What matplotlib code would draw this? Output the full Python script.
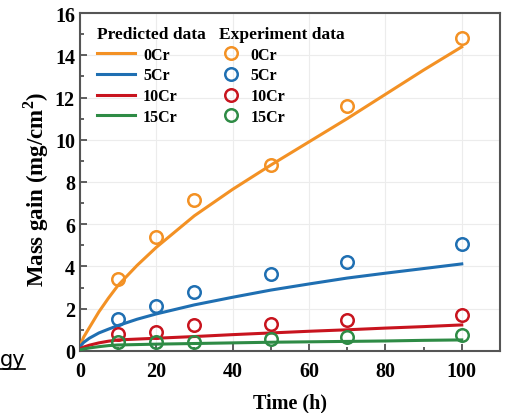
import numpy as np
import matplotlib
matplotlib.use("Agg")
import matplotlib.pyplot as plt
from matplotlib.ticker import MultipleLocator

plt.rcParams['font.family'] = ['Liberation Serif', 'DejaVu Serif']
plt.rcParams['font.weight'] = 'bold'
plt.rcParams['mathtext.fontset'] = 'custom'
plt.rcParams['mathtext.rm'] = 'Liberation Serif:bold'

# experiment points
t_exp = [10, 20, 30, 50, 70, 100]
exp_0cr = [3.41, 5.39, 7.17, 8.82, 11.6, 14.83]
exp_5cr = [1.52, 2.12, 2.81, 3.62, 4.23, 5.07]
exp_10cr = [0.80, 0.88, 1.23, 1.28, 1.44, 1.71]
exp_15cr = [0.41, 0.41, 0.44, 0.54, 0.65, 0.73]

# predicted curves
t_pred = [0, 1, 2.5, 5, 7.5, 10, 15, 20, 30, 40, 50, 60, 70, 80, 90, 100]
pred_0cr = [0.2, 0.65, 1.1, 1.85, 2.5, 3.1, 4.05, 4.9, 6.4, 7.65, 8.8, 9.9, 11.0, 12.15, 13.3, 14.4]
pred_5cr = [0.2, 0.4, 0.6, 0.85, 1.03, 1.2, 1.5, 1.75, 2.18, 2.54, 2.88, 3.17, 3.45, 3.68, 3.9, 4.12]
pred_10cr = [0.1, 0.18, 0.27, 0.38, 0.46, 0.52, 0.56, 0.6, 0.68, 0.77, 0.85, 0.93, 1.0, 1.08, 1.15, 1.23]
pred_15cr = [0.05, 0.09, 0.14, 0.2, 0.25, 0.28, 0.3, 0.32, 0.35, 0.38, 0.41, 0.43, 0.45, 0.47, 0.5, 0.52]

names = ['0Cr', '5Cr', '10Cr', '15Cr']
colors = ['#F39124', '#1F6FB2', '#C8141E', '#2E8B45']

fig = plt.figure(figsize=(5.05, 4.14), dpi=100)
ax = fig.add_axes([0.158, 0.150, 0.832, 0.816])

lines = []
dots = []
for pred, ex, c, n in zip([pred_0cr, pred_5cr, pred_10cr, pred_15cr],
                          [exp_0cr, exp_5cr, exp_10cr, exp_15cr], colors, names):
    l, = ax.plot(t_pred, pred, color=c, lw=2.2, label=n, zorder=3)
    d, = ax.plot(t_exp, ex, 'o', mfc='none', mec=c, mew=1.8, ms=9, label=n, zorder=4)
    lines.append(l)
    dots.append(d)

ax.set_xlim(0, 110)
ax.set_ylim(0, 16)
ax.xaxis.set_major_locator(MultipleLocator(20))
ax.xaxis.set_minor_locator(MultipleLocator(10))
ax.yaxis.set_major_locator(MultipleLocator(2))
ax.yaxis.set_minor_locator(MultipleLocator(1))
ax.tick_params(which='both', direction='in', labelsize=14.5, width=1.2, color='#444444')
ax.tick_params(which='major', length=5)
ax.tick_params(which='minor', length=3)
ax.tick_params(axis='x', pad=7)
ax.grid(True, color='#ececec', lw=0.8, zorder=0)
for s in ax.spines.values():
    s.set_color('#555555')
    s.set_linewidth(1.5)

ax.set_xlabel('Time (h)', fontsize=14.5, fontweight='bold')
ax.set_ylabel('Mass gain (mg/cm$^2$)', fontsize=16.5, fontweight='bold')
ax.xaxis.set_label_coords(0.5, -0.122)
ax.yaxis.set_label_coords(-0.068, 0.48)

leg1 = ax.legend(handles=lines, title='Predicted data', loc='upper left',
                 bbox_to_anchor=(0.01, 1.0), frameon=False, fontsize=11.5,
                 title_fontproperties={'weight': 'bold', 'size': 12.5},
                 alignment='left', handlelength=2.4, handletextpad=0.5,
                 labelspacing=0.3, borderaxespad=0.4)
ax.add_artist(leg1)
ax.legend(handles=dots, title='Experiment data', loc='upper left',
          bbox_to_anchor=(0.302, 1.0), frameon=False, fontsize=11.5,
          title_fontproperties={'weight': 'bold', 'size': 12.5},
          alignment='left', handlelength=1.5, handletextpad=0.45,
          labelspacing=0.3, borderaxespad=0.4)

# page fragment at the left edge
fig.text(0.0, 0.115, 'gy', fontsize=15, family='DejaVu Sans', weight='normal')
fig.add_artist(plt.Line2D([0.0, 0.05], [0.106, 0.106], color='black', lw=1.2))

fig.savefig('out.png', dpi=100)
